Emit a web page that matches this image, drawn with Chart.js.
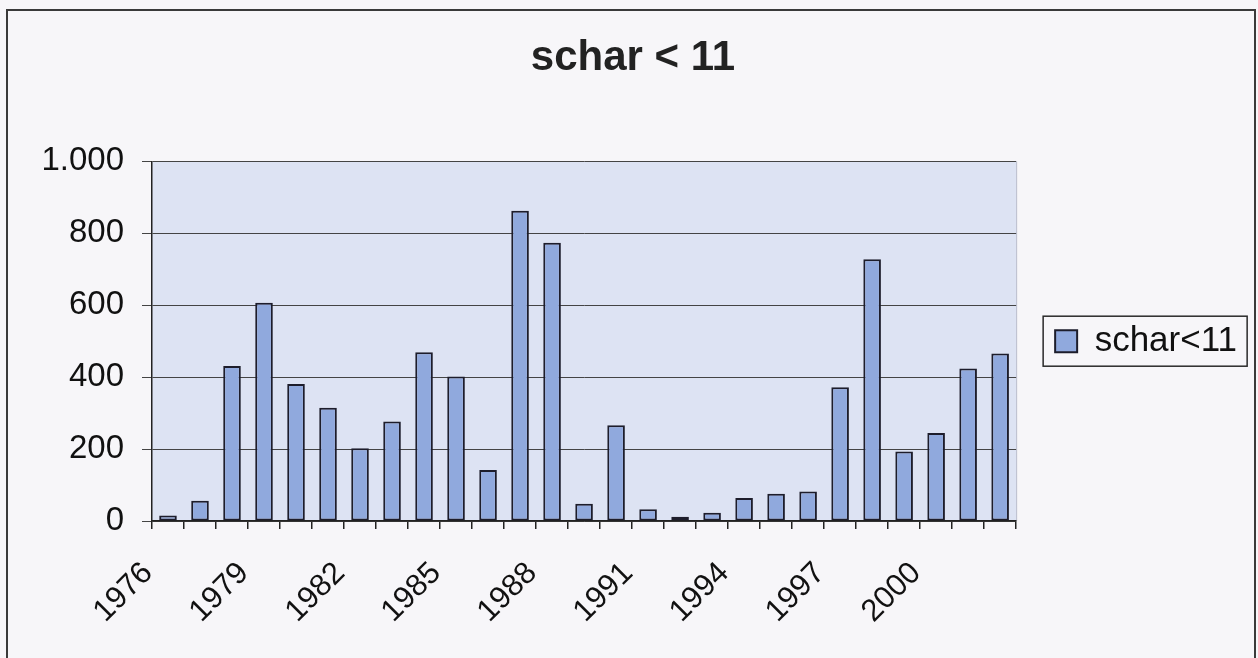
<!DOCTYPE html>
<html>
<head>
<meta charset="utf-8">
<title>schar &lt; 11</title>
<script src="https://cdn.jsdelivr.net/npm/chart.js@4/dist/chart.umd.min.js"></script>
<style>
html,body{margin:0;padding:0;background:#f7f6f9;overflow:hidden;}
#frame{position:absolute;left:6px;top:9px;width:1246px;height:700px;border:2px solid #3a3a3a;}
#wrap{position:absolute;left:0;top:0;width:1258px;height:658px;}
</style>
</head>
<body>

<div id="frame"></div>
<div id="wrap"><canvas id="scharChart" width="1258" height="658"></canvas></div>

<script>
// =====================================
// Data
// =====================================

const years=[1976,1977,1978,1979,1980,1981,1982,1983,1984,1985,1986,1987,1988,1989,
1990,1991,1992,1993,1994,1995,1996,1997,1998,1999,2000,2001,2002];

const scharValues=[15,56,431,607,381,315,202,277,469,402,142,863,774,48,
266,33,12,23,64,76,82,372,728,193,245,424,466];

const yTicks=[0,200,400,600,800,1000];

const FONT="'Liberation Sans', Arial, sans-serif";


// =====================================
// Plugins
// =====================================

// light blue plot area
const plotBackground={
    id:"plotBackground",
    beforeDraw(chart){
        const a=chart.chartArea;
        const ctx=chart.ctx;
        ctx.save();
        ctx.fillStyle="#dde3f3";
        ctx.fillRect(a.left,a.top,a.right-a.left,a.bottom-a.top);
        ctx.strokeStyle="#b9bccb";
        ctx.lineWidth=1;
        ctx.beginPath();
        ctx.moveTo(a.right+0.5,a.top);
        ctx.lineTo(a.right+0.5,a.bottom);
        ctx.stroke();
        ctx.restore();
    }
};

// frame round the legend
const legendFrame={
    id:"legendFrame",
    afterDraw(chart){
        const boxes=chart.legend.legendHitBoxes;
        if(!boxes || !boxes.length) return;
        const hb=boxes[0];
        const ctx=chart.ctx;
        ctx.save();
        ctx.strokeStyle="#2a2a2a";
        ctx.lineWidth=1.5;
        ctx.strokeRect(hb.left-12,hb.top+hb.height/2-25,204,50);
        ctx.restore();
    }
};


// =====================================
// Chart
// =====================================

new Chart(document.getElementById("scharChart"),{

    type:"bar",

    data:{
        labels:years,
        datasets:[{
            label:"schar<11",
            data:scharValues,
            backgroundColor:"#90a9dd",
            borderColor:"#1d1d2b",
            borderWidth:2,
            borderSkipped:false,
            barPercentage:0.55,
            categoryPercentage:1.0
        }]
    },

    options:{
        responsive:false,
        animation:false,
        devicePixelRatio:1,
        layout:{padding:{left:19,right:11,top:0,bottom:0}},

        plugins:{
            title:{
                display:true,
                text:"schar < 11",
                color:"#222",
                font:{family:FONT,size:42,weight:"bold"},
                padding:{top:33,bottom:78}
            },
            legend:{
                position:"right",
                fullSize:false,
                labels:{
                    color:"#111",
                    font:{family:FONT,size:35},
                    boxWidth:22,
                    boxHeight:22,
                    padding:39
                }
            },
            tooltip:{enabled:false}
        },

        scales:{
            x:{
                grid:{
                    offset:true,
                    drawOnChartArea:false,
                    drawTicks:true,
                    tickLength:8,
                    color:"#222",
                    lineWidth:1.5
                },
                border:{color:"#222",width:1.5},
                ticks:{
                    autoSkip:false,
                    maxRotation:45,
                    minRotation:45,
                    padding:26,
                    labelOffset:-20,
                    color:"#111",
                    font:{family:FONT,size:31},
                    callback:function(value,index){
                        return index%3===0 ? years[index] : "";
                    }
                },
                afterFit(scale){ scale.height=137; }
            },
            y:{
                min:0,
                max:1000,
                grid:{
                    color:"#444",
                    lineWidth:1,
                    tickLength:10
                },
                border:{color:"#222",width:1.5},
                afterBuildTicks(scale){
                    scale.ticks=yTicks.map(v=>({value:v}));
                },
                ticks:{
                    padding:18,
                    color:"#111",
                    font:{family:FONT,size:33},
                    callback:function(value){
                        return value.toLocaleString("de-DE");
                    }
                },
                afterFit(scale){ scale.width=133; }
            }
        }
    },

    plugins:[plotBackground,legendFrame]

});
</script>
</body>
</html>
